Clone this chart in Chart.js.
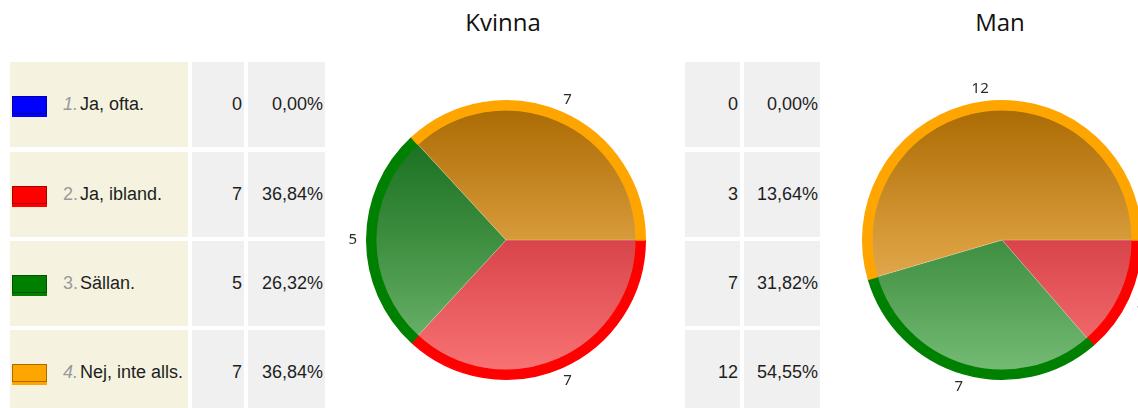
<!DOCTYPE html>
<html>
<head>
<meta charset="utf-8">
<script src="https://cdn.jsdelivr.net/npm/chart.js@4"></script>
<style>
  body { margin: 0; width: 1138px; height: 408px; overflow: hidden; background: #fff; position: relative;
         font-family: "Liberation Sans", Arial, sans-serif; }
  .cell { position: absolute; height: 85px; display: flex; align-items: center; font-size: 18px; color: #1e1e1e;
          box-sizing: border-box; }
  .legend { background: #f5f3e0; }
  .num { background: #f0f0f0; justify-content: flex-end; padding-right: 2px; }
  .swatch { width: 35px; height: 18px; margin: 0 16px 0 2px; box-sizing: border-box;
            border: 1px solid rgba(0,0,0,0.35); }
  .idx { color: #999; margin-right: 2px; }
  .idx.it { font-style: italic; }
  .title { position: absolute; top: 5px; font-family: "Open Sans", sans-serif; font-size: 24px; color: #111;
           transform: translateX(-50%); }
  canvas { position: absolute; }
</style>
</head>
<body>
<div id="tables"></div>
<div class="title" style="left:503px">Kvinna</div>
<div class="title" style="left:1000px">Man</div>
<canvas id="kvinnaChart" width="340" height="320" style="left:336px;top:80px"></canvas>
<canvas id="manChart" width="340" height="320" style="left:832px;top:80px"></canvas>
<script>
// answer options and counts per group
const categories = ['Ja, ofta.', 'Ja, ibland.', 'Sällan.', 'Nej, inte alls.'];
const kvinnaValues = [0, 7, 5, 7];
const kvinnaPercent = ['0,00%', '36,84%', '26,32%', '36,84%'];
const manValues = [0, 3, 7, 12];
const manPercent = ['0,00%', '13,64%', '31,82%', '54,55%'];

const ringColors = ['#0000ff', '#ff0000', '#008000', '#ffa500'];
// top / middle / bottom of the vertical gradient inside each slice
const fillStops = [
    ['#0000a8', '#3030e0', '#7070ff'],
    ['#b82222', '#d8444a', '#fa7676'],
    ['#0c6414', '#3e8e40', '#78be78'],
    ['#a86800', '#d89b3a', '#f0c274']
];

const rowTops = [62, 152, 241, 330];

function addCell(cls, left, width, top, html) {
    const d = document.createElement('div');
    d.className = 'cell ' + cls;
    d.style.left = left + 'px';
    d.style.width = width + 'px';
    d.style.top = top + 'px';
    d.innerHTML = html;
    document.getElementById('tables').appendChild(d);
}

categories.forEach((cat, i) => {
    const top = rowTops[i];
    const italic = (i === 0 || i === 3) ? ' it' : '';
    addCell('legend', 10, 178, top,
        `<div class="swatch" style="background:${ringColors[i]};box-shadow:0 3px 0 ${ringColors[i]}"></div>` +
        `<span class="idx${italic}">${i + 1}.</span>${cat}`);
    addCell('num', 192, 52, top, kvinnaValues[i]);
    addCell('num', 248, 77, top, kvinnaPercent[i]);
    addCell('num', 685, 55, top, manValues[i]);
    addCell('num', 744, 76, top, manPercent[i]);
});

function sliceFill(ctx) {
    const area = ctx.chart.chartArea;
    const stops = fillStops[ctx.dataIndex];
    if (!area) return stops[1];
    const g = ctx.chart.ctx.createLinearGradient(0, area.top, 0, area.bottom);
    g.addColorStop(0, stops[0]);
    g.addColorStop(0.5, stops[1]);
    g.addColorStop(1, stops[2]);
    return g;
}

// value next to each slice, just outside the ring
const valueLabels = {
    id: 'valueLabels',
    afterDatasetsDraw(chart) {
        const meta = chart.getDatasetMeta(0);
        const values = chart.data.datasets[0].data;
        const c = chart.ctx;
        c.save();
        c.font = '15px "Noto Sans"';
        c.fillStyle = '#2a2a2a';
        c.textAlign = 'center';
        c.textBaseline = 'middle';
        meta.data.forEach((arc, i) => {
            if (!values[i]) return;
            const a = (arc.startAngle + arc.endAngle) / 2;
            const r = arc.outerRadius + 14;
            c.fillText(values[i], arc.x + Math.cos(a) * r, arc.y + Math.sin(a) * r);
        });
        c.restore();
    }
};

function makePie(id, values) {
    return new Chart(document.getElementById(id), {
        type: 'pie',
        data: {
            labels: categories,
            datasets: [{
                data: values,
                backgroundColor: ringColors,
                borderColor: ringColors,
                borderWidth: ctx => ctx.raw ? 1.5 : 0,
                weight: 1
            }, {
                data: values,
                backgroundColor: sliceFill,
                borderColor: 'rgba(255,255,255,0.3)',
                borderWidth: ctx => ctx.raw ? 0.6 : 0,
                weight: 14.5
            }]
        },
        options: {
            responsive: false,
            animation: false,
            rotation: 90,
            layout: { padding: 20 },
            plugins: { legend: { display: false }, tooltip: { enabled: false } }
        },
        plugins: [valueLabels]
    });
}

makePie('kvinnaChart', kvinnaValues);
makePie('manChart', manValues);
</script>
</body>
</html>
